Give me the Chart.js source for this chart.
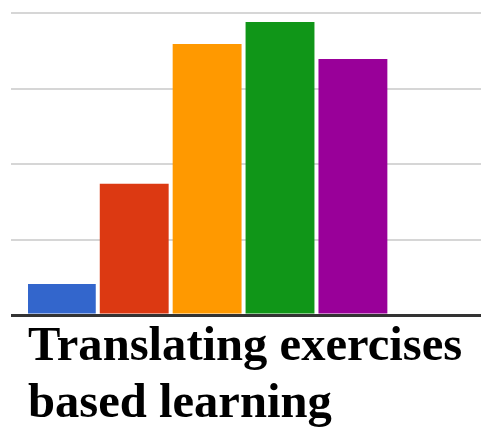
<!DOCTYPE html>
<html>
<head>
<meta charset="utf-8">
<script src="https://cdn.jsdelivr.net/npm/chart.js@4/dist/chart.umd.min.js"></script>
<style>
  html, body { margin: 0; padding: 0; background: #fff; }
  #wrap { width: 481px; height: 429px; }
</style>
</head>
<body>
<div id="wrap"><canvas id="myChart"></canvas></div>
<script>
// values (gridlines every 10 units)
var categories = ['A', 'B', 'C', 'D', 'E'];
var values = [4.1, 17.4, 35.9, 38.8, 33.9];
var barColors = ['#3366cc', '#dc3912', '#ff9900', '#109618', '#990099'];
var axisTitle = ['Translating exercises', 'based learning'];
var yTicks = [0, 10, 20, 30, 40];

// bars sit at positions 1..n on a linear x scale
var points = values.map(function (v, i) {
    return { x: i + 1, y: v };
});

var ctx = document.getElementById('myChart').getContext('2d');
var chart = new Chart(ctx, {
    type: 'bar',
    data: {
        labels: categories,
        datasets: [{
            data: points,
            backgroundColor: barColors,
            borderWidth: 0,
            categoryPercentage: 1,
            barPercentage: 0.945
        }]
    },
    options: {
        responsive: true,
        maintainAspectRatio: false,
        animation: false,
        layout: { padding: { left: 11, top: 13, right: 0, bottom: 0 } },
        plugins: {
            legend: { display: false },
            tooltip: { enabled: false }
        },
        scales: {
            x: {
                type: 'linear',
                min: 0.543,
                max: 6.757,
                offset: false,
                grid: { display: false, drawTicks: false },
                border: { display: false },
                ticks: { display: false, stepSize: 1, includeBounds: false },
                title: {
                    display: true,
                    text: axisTitle,
                    align: 'start',
                    color: '#000',
                    padding: { top: 3.9, bottom: -3.9 },
                    font: { family: "'Liberation Serif', 'Times New Roman', serif", size: 48.6, weight: 'bold', lineHeight: '57px' }
                }
            },
            y: {
                min: yTicks[0],
                max: yTicks[yTicks.length - 1],
                afterBuildTicks: function (axis) {
                    axis.ticks = yTicks.map(function (v) { return { value: v }; });
                },
                ticks: { display: false },
                border: { display: false },
                grid: {
                    drawTicks: true,
                    tickLength: 17,
                    color: function (c) { return c.tick && c.tick.value === 0 ? '#333333' : '#d6d6d6'; },
                    lineWidth: function (c) { return c.tick && c.tick.value === 0 ? 3 : 2; }
                }
            }
        }
    }
});
</script>
</body>
</html>
